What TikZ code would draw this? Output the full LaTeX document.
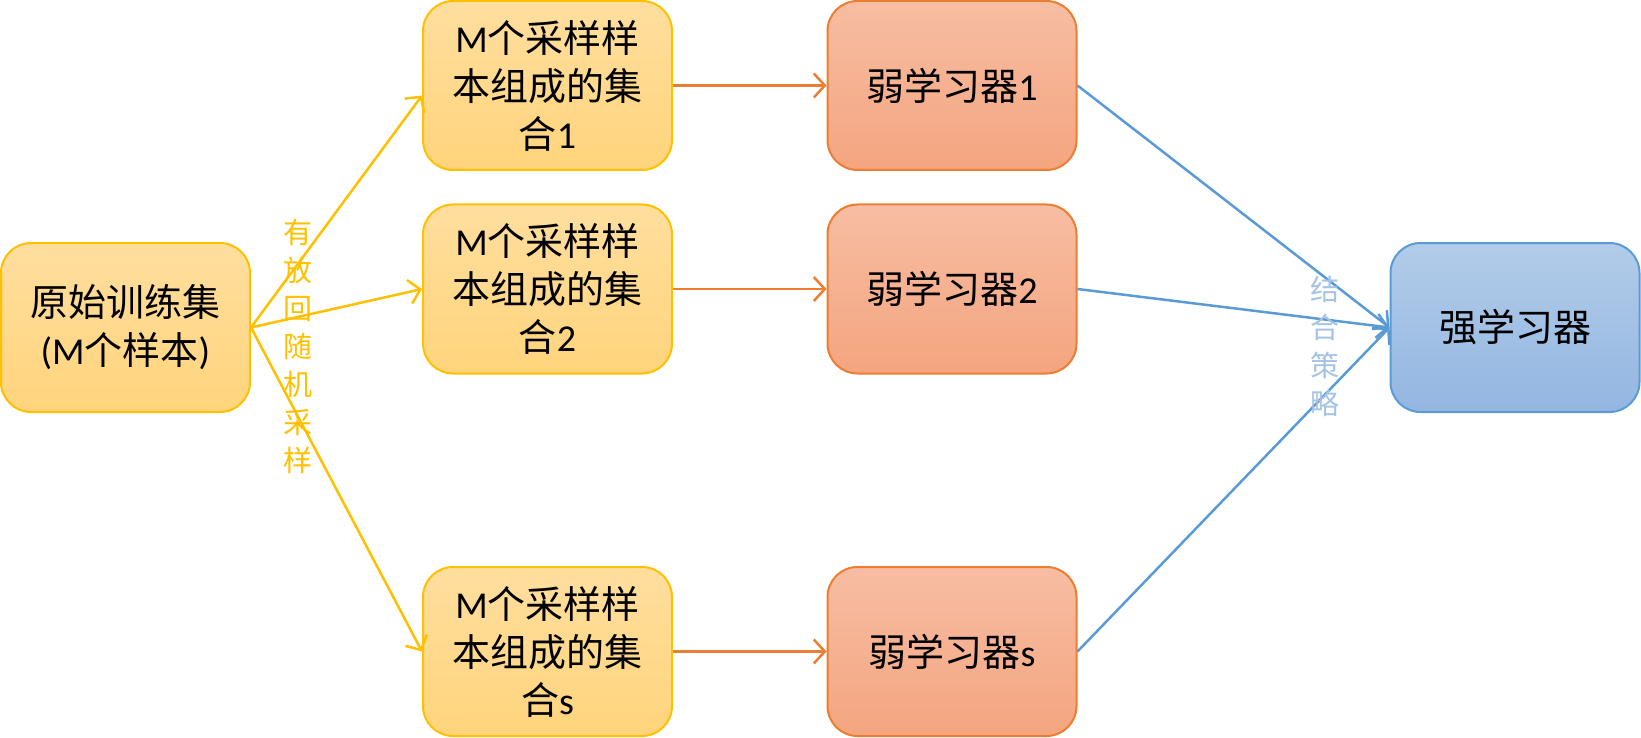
\documentclass[tikz,border=0pt]{standalone}
\usepackage{fontspec}
\setmainfont{Carlito}
\newfontfamily\cjk{Noto Sans CJK SC}
\usetikzlibrary{arrows.meta}
\definecolor{ylwline}{HTML}{FFC000}
\definecolor{ylwtop}{HTML}{FFDE9E}
\definecolor{ylwbot}{HTML}{FFD47C}
\definecolor{orgline}{HTML}{ED7D31}
\definecolor{orgtop}{HTML}{F7BDA3}
\definecolor{orgbot}{HTML}{F4A57F}
\definecolor{blueline}{HTML}{5B9BD5}
\definecolor{bluetop}{HTML}{B2CCE9}
\definecolor{bluebot}{HTML}{93B6E1}
\definecolor{bluelabel}{HTML}{A4C3E6}
\newcommand{\zh}[1]{{\cjk #1}}
\tikzset{
  box/.style={rounded corners=30pt, line width=2pt, minimum width=249pt,
    minimum height=169pt, inner sep=0pt, align=center,
    font=\fontsize{38}{48}\selectfont},
  ybox/.style={box, draw=ylwline, top color=ylwtop, bottom color=ylwbot},
  obox/.style={box, draw=orgline, top color=orgtop, bottom color=orgbot},
  bbox/.style={box, draw=blueline, top color=bluetop, bottom color=bluebot},
  conn/.style={line width=2.5pt, -{Straight Barb[length=11pt,width=24pt,line width=2.5pt]}},
  vlabel/.style={align=center, inner sep=0pt, font=\cjk\fontsize{29}{38}\selectfont}
}
\begin{document}
\begin{tikzpicture}[x=1pt,y=-1pt]
\useasboundingbox (0,0) rectangle (1641,738);
\node[ybox] (src) at (125.5,327.5) {\zh{原始训练集}\\(M\zh{个样本})};
\node[ybox] (s1) at (547.5,85.5) {M\zh{个采样样}\\\zh{本组成的集}\\\zh{合}1};
\node[ybox] (s2) at (547.5,289) {M\zh{个采样样}\\\zh{本组成的集}\\\zh{合}2};
\node[ybox] (s3) at (547.5,651.5) {M\zh{个采样样}\\\zh{本组成的集}\\\zh{合}s};
\node[obox] (w1) at (952,85.5) {\zh{弱学习器}1};
\node[obox] (w2) at (952,289) {\zh{弱学习器}2};
\node[obox] (w3) at (952,651.5) {\zh{弱学习器}s};
\node[bbox] (strong) at (1515,327.5) {\zh{强学习器}};
\draw[conn, ylwline] (src.east) -- ([yshift=-10pt]s1.west);
\draw[conn, ylwline] (src.east) -- (s2.west);
\draw[conn, ylwline] (src.east) -- (s3.west);
\draw[conn, orgline] (s1.east) -- (w1.west);
\draw[conn, orgline] (s2.east) -- (w2.west);
\draw[conn, orgline] (s3.east) -- (w3.west);
\draw[conn, blueline] (w1.east) -- (strong.west);
\draw[conn, blueline] (w2.east) -- (strong.west);
\draw[conn, blueline] (w3.east) -- (strong.west);
\node[vlabel, text=ylwline] (lab1) at (298,346) {有\\放\\回\\随\\机\\采\\样};
\node[vlabel, text=bluelabel] (lab2) at (1325,346.5) {结\\合\\策\\略};
\end{tikzpicture}
\end{document}
